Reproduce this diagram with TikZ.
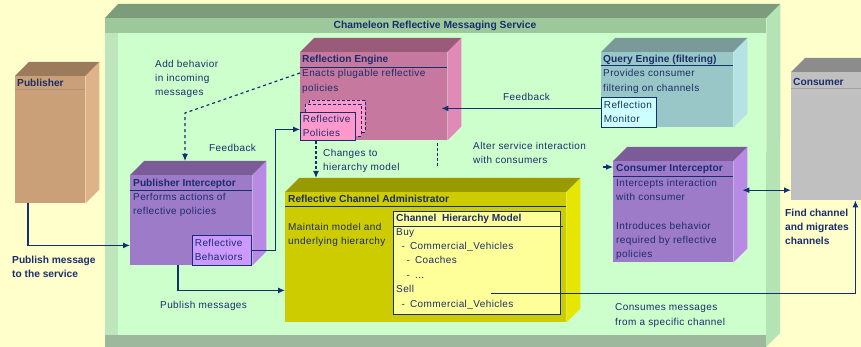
\documentclass[tikz,border=0pt]{standalone}
\usepackage{fontspec}
\setmainfont{Liberation Sans}
\newfontfamily\bodyfont[LetterSpace=4]{Liberation Sans}
\usetikzlibrary{arrows.meta}
\definecolor{bg}{HTML}{FFFFCC}
\definecolor{navy}{HTML}{1B2D6B}
\definecolor{lnavy}{HTML}{12306E}
\definecolor{svctop}{HTML}{7C9C7C}
\definecolor{svchead}{HTML}{9CC89C}
\definecolor{svcfront}{HTML}{CCFFCC}
\definecolor{svcside}{HTML}{B4E4B4}
\definecolor{svcbottom}{HTML}{9DB89D}
\definecolor{svcleft}{HTML}{BDE6BD}
\definecolor{pubtop}{HTML}{9C7A5C}
\definecolor{pubfront}{HTML}{C9A077}
\definecolor{pubside}{HTML}{DFB38A}
\definecolor{inttop}{HTML}{7B5C99}
\definecolor{intfront}{HTML}{9D7BC9}
\definecolor{intside}{HTML}{B98AE5}
\definecolor{intin}{HTML}{CC99FF}
\definecolor{retop}{HTML}{9A5A7A}
\definecolor{refront}{HTML}{C6789E}
\definecolor{reside}{HTML}{E08AB8}
\definecolor{rein}{HTML}{FF99CC}
\definecolor{qetop}{HTML}{7A9999}
\definecolor{qefront}{HTML}{99C6C6}
\definecolor{qeside}{HTML}{B5E3E3}
\definecolor{qein}{HTML}{CCFFFF}
\definecolor{rcatop}{HTML}{999900}
\definecolor{rcafront}{HTML}{CCCC00}
\definecolor{rcaside}{HTML}{E6E600}
\definecolor{rcain}{HTML}{FFFF99}
\definecolor{constop}{HTML}{8C8C8C}
\definecolor{consfront}{HTML}{C0C0C0}
\tikzset{
  face/.style={anchor=north west, inner sep=0pt, draw=none},
  txt/.style={anchor=north west, inner sep=0pt, align=left, text=navy, font=\bodyfont\fontsize{10}{14}\selectfont},
  ttl/.style={anchor=north west, inner sep=0pt, align=left, text=navy, font=\bfseries\fontsize{10.2}{14}\selectfont},
  btxt/.style={anchor=north west, inner sep=0pt, align=left, text=navy, font=\bfseries\fontsize{10.2}{14}\selectfont},
  inbox/.style={anchor=north west, draw=lnavy, line width=0.8pt, inner sep=2.5pt, align=left, text=navy, font=\bodyfont\fontsize{10}{14}\selectfont},
  rulel/.style={draw=lnavy, line width=0.8pt},
  conn/.style={draw=lnavy, line width=1.2pt, -{Latex[length=7pt,width=6pt]}},
  dconn/.style={draw=lnavy, line width=1.2pt, {Latex[length=7pt,width=6pt]}-{Latex[length=7pt,width=6pt]}},
}
\newcommand\cubebox[8]{%
  \node[face, fill=#7, minimum width=#4, minimum height=#5] (#1) at (#2,#3) {};
  \fill[#6] (#1.north west) -- ++(14,-14) -- ([shift={(14,-14)}]#1.north east) -- (#1.north east) -- cycle;
  \fill[#8] (#1.north east) -- ++(14,-14) -- ([shift={(14,-14)}]#1.south east) -- (#1.south east) -- cycle;
}
\begin{document}
\begin{tikzpicture}[x=1pt,y=-1pt]
\clip (0,0) rectangle (861,347);
\fill[bg] (0,0) rectangle (861,347);

% service container
\node[face, fill=svcfront, minimum width=661, minimum height=317] (svc) at (105,18) {};
\fill[svctop] (svc.north west) -- ++(13,-14) -- ([shift={(14,-14)}]svc.north east) -- (svc.north east) -- cycle;
\fill[svcside] (svc.north east) -- ++(14,-14) -- (780,333) -- (766,347) -- cycle;
\fill[svcbottom] (svc.south west) rectangle (766,347);
\fill[svchead] (105,18) rectangle (766,33);
\fill[svcleft] (105,33) rectangle (118,335);
\node[anchor=center, inner sep=0pt, text=navy, font=\bfseries\fontsize{10.3}{12}\selectfont] (svct) at (435,25.5) {Chameleon Reflective Messaging Service};

% publisher
\cubebox{pub}{15}{76}{70}{127}{pubtop}{pubfront}{pubside}
\node[ttl] (pubt) at (17,79) {Publisher};
\draw[draw=pubtop!80, line width=0.6pt] ([yshift=-13pt]pub.north west) -- ([yshift=-13pt]pub.north east);

% consumer
\cubebox{cons}{791}{72}{84}{128}{constop}{consfront}{consfront}
\node[ttl] (const) at (793,78) {Consumer};
\draw[draw=constop!80, line width=0.6pt] ([yshift=-16pt]cons.north west) -- ([yshift=-16pt]cons.north east);

% publisher interceptor
\cubebox{pint}{130}{175}{122}{90}{inttop}{intfront}{intside}
\node[ttl] (pintt) at (133,179) {Publisher Interceptor};
\draw[rulel] ([yshift=-15pt]pint.north west) -- ([yshift=-15pt]pint.north east);
\node[txt] (pintx) at (133,193) {Performs actions of\\reflective policies};
\node[inbox, fill=intin, minimum width=59, minimum height=30, text width=54] (beh) at (192,235) {Reflective\\Behaviors};

% reflection engine
\cubebox{re}{300}{52}{147}{88}{retop}{refront}{reside}
\node[ttl] (ret) at (302,55) {Reflection Engine};
\draw[rulel] ([yshift=-15pt]re.north west) -- ([yshift=-15pt]re.north east);
\node[txt, font=\bodyfont\fontsize{10}{15}\selectfont] (rex) at (302,69) {Enacts plugable reflective\\policies};
\draw[draw=lnavy, fill=rein, densely dashed, line width=0.7pt] (309,100) rectangle (365,132);
\draw[draw=lnavy, fill=rein, densely dashed, line width=0.7pt] (305,104) rectangle (361,136);
\node[inbox, fill=rein, minimum width=55, minimum height=28, text width=50] (pol) at (300,112) {Reflective\\Policies};

% query engine
\cubebox{qe}{601}{52}{132}{75}{qetop}{qefront}{qeside}
\node[ttl] (qet) at (603,55) {Query Engine (filtering)};
\draw[rulel] ([yshift=-13pt]qe.north west) -- ([yshift=-13pt]qe.north east);
\node[txt, font=\bodyfont\fontsize{10}{15}\selectfont] (qex) at (603,69) {Provides consumer\\filtering on channels};
\node[inbox, fill=qein, minimum width=55, minimum height=30, text width=50] (mon) at (601,97) {Reflection\\Monitor};

% consumer interceptor
\cubebox{ci}{613}{161}{120}{101}{inttop}{intfront}{intside}
\node[ttl] (cit) at (616,164) {Consumer Interceptor};
\draw[rulel] ([yshift=-15pt]ci.north west) -- ([yshift=-15pt]ci.north east);
\node[txt] (cix) at (616,179) {Intercepts interaction\\with consumer};
\node[txt] (ciy) at (616,222) {Introduces behavior\\required by reflective\\policies};

% reflective channel administrator
\cubebox{rca}{285}{192}{281}{130}{rcatop}{rcafront}{rcaside}
\node[ttl] (rcat) at (288,195) {Reflective Channel Administrator};
\draw[rulel] ([yshift=-14pt]rca.north west) -- ([yshift=-14pt]rca.north east);
\node[txt] (rcax) at (288,223) {Maintain model and\\underlying hierarchy};
\node[face, draw=lnavy, line width=0.8pt, fill=rcain, minimum width=167, minimum height=103] (chm) at (393,211) {};
\node[ttl] (chmt) at (396,214) {Channel\ \ Hierarchy Model};
\draw[rulel] ([yshift=-15pt]chm.north west) -- ([yshift=-15pt,xshift=2pt]chm.north east);
\node[txt, font=\bodyfont\fontsize{10}{14.4}\selectfont] (chmx) at (396,228) {Buy\\
\hspace*{5.5pt}-\hspace{5pt}Commercial\_Vehicles\\
\hspace*{10.5pt}-\hspace{5pt}Coaches\\
\hspace*{10.5pt}-\hspace{5pt}...\\
Sell\\
\hspace*{5.5pt}-\hspace{5pt}Commercial\_Vehicles};

% labels
\node[txt] (lab1) at (155,60) {Add behavior\\in incoming\\messages};
\node[txt] (lab2) at (209,144) {Feedback};
\node[txt] (lab3) at (323,149) {Changes to\\hierarchy model};
\node[txt] (lab4) at (473,142) {Alter service interaction\\with consumers};
\node[txt] (lab5) at (503,93) {Feedback};
\node[txt] (lab6) at (160,301) {Publish messages};
\node[txt, font=\bodyfont\fontsize{10}{15.5}\selectfont] (lab7) at (615,303) {Consumes messages\\from a specific channel};
\node[btxt] (lab8) at (12,256) {Publish message\\to the service};
\node[btxt] (lab9) at (785,209) {Find channel\\and migrates\\channels};

% connectors
\draw[conn] ([xshift=13pt]pub.south west) |- ([yshift=20pt]pint.south west);
\draw[conn] ([xshift=48pt]pint.south west) |- ([yshift=32pt]rca.south west);
\draw[conn] (beh.east) -- ++(24,0) |- ([yshift=-3pt]pol.west);
\coordinate (abstart) at ([yshift=-21pt]re.north west);
\coordinate (abbend) at (185,113);
\coordinate (pinttop) at ([yshift=14pt]pint.north);
\draw[conn, dashed] (abstart) -- (abbend) -- (abbend |- pinttop);
\coordinate (chg) at ([xshift=16pt]pol.south west);
\coordinate (rcatopc) at ([yshift=14pt]rca.north);
\draw[conn, densely dashed] (chg) -- (chg |- rcatopc);
\coordinate (fb) at ([yshift=4pt]mon.west);
\draw[conn, shorten >=-6pt] (fb) -- (fb -| re.east);
\draw[draw=lnavy, line width=1.2pt, densely dashed] ([xshift=-10pt,yshift=-3pt]re.south east) -- ++(0,23);
\draw[conn] ([xshift=-10pt,yshift=-6pt]ci.north west) -- ([yshift=-6pt]ci.north west);
\coordinate (d1) at ([xshift=9pt,yshift=21.5pt]ci.east);
\draw[dconn] (d1) -- (d1 -| cons.west);
\coordinate (s0) at ([xshift=98pt,yshift=21pt]chm.south west);
\draw[conn] (s0) -| ([xshift=-20pt]cons.south east);
\end{tikzpicture}
\end{document}
